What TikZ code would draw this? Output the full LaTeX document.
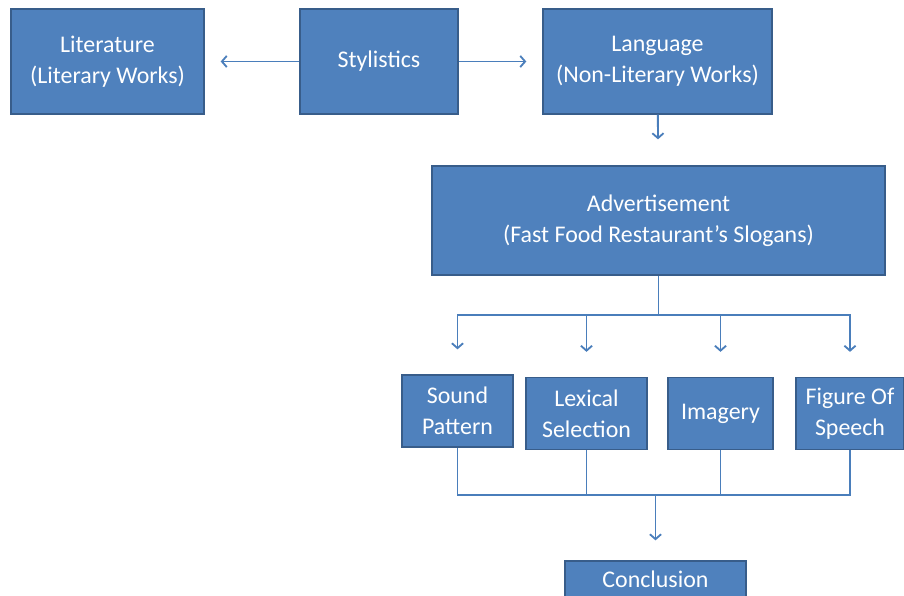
\documentclass[tikz,border=0pt]{standalone}
\usepackage{fontspec}
\setmainfont{Carlito}
\usetikzlibrary{arrows.meta}
\definecolor{boxfill}{HTML}{4F81BD}
\definecolor{boxline}{HTML}{385D8A}
\definecolor{linkline}{HTML}{4A7EBB}
\begin{document}
\begin{tikzpicture}[x=0.025cm, y=-0.025cm,
    box/.style={draw=boxline, fill=boxfill, line width=0.9pt, text=white, align=center, inner sep=0pt, font=\fontsize{17}{22}\selectfont},
    link/.style={linkline, line width=1.3pt},
    arr/.style={link, -{Straight Barb[length=3.5pt,width=8pt]}}]
  \useasboundingbox (0,0) rectangle (904,596);
  \node[box, minimum width=4.825cm, minimum height=2.625cm] (lit) at (107.5,61.5) {Literature\\(Literary Works)};
  \node[box, minimum width=3.95cm, minimum height=2.625cm] (sty) at (379,61.5) {Stylistics};
  \node[box, minimum width=5.725cm, minimum height=2.625cm] (lang) at (657.5,61.5) {Language\\(Non-Literary Works)};
  \node[box, minimum width=11.325cm, minimum height=2.725cm] (adv) at (658.5,220.5) {Advertisement\\(Fast Food Restaurant’s Slogans)};
  \foreach \n/\x/\y/\w/\t in {sp/457.5/411/2.775/{Sound\\Pattern}, ls/586.5/413.5/3.025/{Lexical\\Selection}, im/720.5/413.5/2.625/{Imagery}, fs/850/413.5/2.7/{Figure Of\\Speech}}{
    \node[box, minimum width=\w cm, minimum height=1.8cm] (\n) at (\x,\y) {\t};
  }
  \node[box, minimum width=4.525cm, minimum height=1.1cm, text depth=0.2cm] (con) at (655.5,583) {Conclusion};
  \draw[arr, shorten >=0.4cm] (sty) -- (lit);
  \draw[arr, shorten >=0.4cm] (sty) -- (lang);
  \draw[arr, shorten >=0.65cm] (lang) -- (adv);
  \draw[link] (adv.south) -- (658.5,315) coordinate (split);
  \coordinate (join) at (655.5,495);
  \foreach \n in {sp,ls,im,fs}{
    \draw[arr, shorten >=0.625cm] (split) -| (\n.north);
    \draw[link] (\n.south) |- (join);
  }
  \draw[arr, shorten >=0.5cm] (join) -- (con.north);
\end{tikzpicture}
\end{document}
